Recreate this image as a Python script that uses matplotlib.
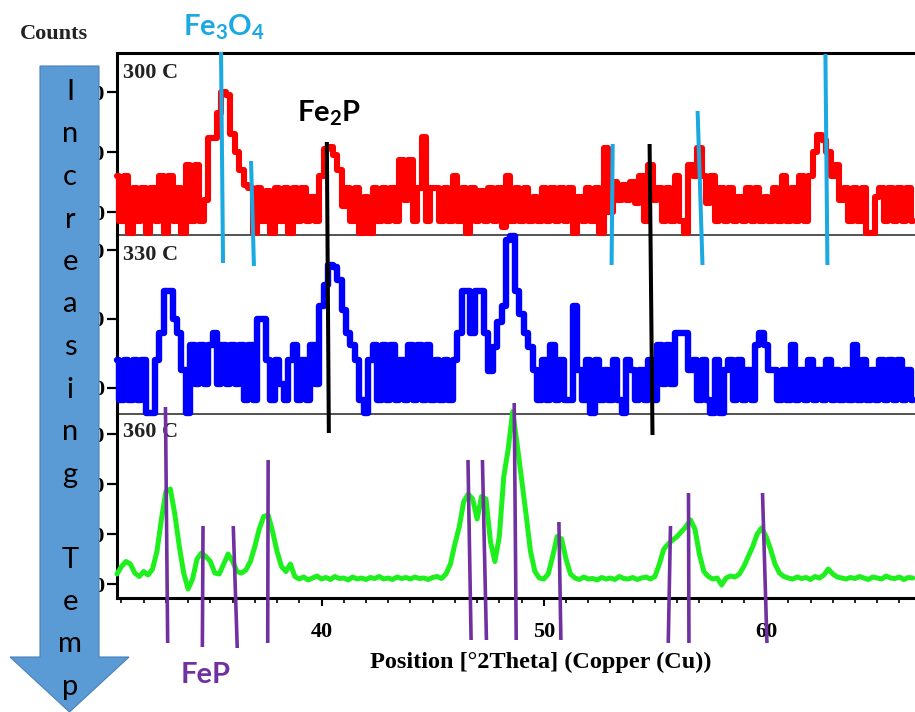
import numpy as np
import matplotlib
matplotlib.use('Agg')
import matplotlib.pyplot as plt
from matplotlib.patches import FancyArrow
from matplotlib.ticker import MultipleLocator

plt.rcParams['font.family'] = 'Liberation Serif'
plt.rcParams['font.weight'] = 'bold'
plt.rcParams['axes.labelweight'] = 'bold'
plt.rcParams['mathtext.fontset'] = 'custom'
plt.rcParams['mathtext.rm'] = 'Lato:bold'
plt.rcParams['mathtext.it'] = 'Lato:bold'
plt.rcParams['mathtext.bf'] = 'Lato:bold'

# scan range (deg 2theta) and step
theta_start = 30.8
theta_step = 0.2

counts_300 = [61, -14, 61, -34, 41, -14, 41, -34, 41, -14,
              61, -34, 61, -14, 41, -34, 79, -14, 79, -14,
              20, 123, 123, 165, 200, 195, 130, 100, 70, 45,
              41, -34, 41, -14, 35, -34, 41, -14, 41, -34,
              41, -14, 41, -14, 25, -14, 60, 105, 108, 95,
              70, 10, 41, -14, 41, -34, 25, -34, 41, -14,
              41, -14, 41, -14, 87, 20, 87, -14, 41, 125,
              -14, 41, 41, -14, 41, -14, 61, -14, 41, -34,
              41, -14, 35, -14, 41, -14, 41, -24, 61, -14,
              41, -14, 41, -14, 25, -14, 41, -14, 41, -14,
              41, -14, 41, -34, 25, -14, 41, -14, 41, -34,
              107, 0, 50, 20, 45, 20, 50, 15, 61, -14,
              79, 20, 41, -14, 41, -14, 61, -14, -34, 79,
              61, 107, 61, 15, 61, -14, 41, -14, 41, -14,
              25, -14, 41, -14, 41, -14, 25, -14, 41, -14,
              61, -14, 41, -14, 61, -14, 61, 100, 128, 120,
              100, 61, 79, 20, 41, -14, 41, -14, 41, -34,
              -34, 25, 41, -14, 41, -14, 41, -14, 41, -14]

counts_330 = [41, -17, 41, -17, 41, -17, 41, -36, -36, 41,
              80, 140, 141, 100, 80, 26, -36, 62, 5, 62,
              5, 62, 80, 5, 62, 5, 62, 5, 62, -17,
              62, -17, 100, 100, 41, -17, 41, 5, -17, 41,
              62, -17, 41, -17, 62, 5, 119, 150, 179, 175,
              157, 113, 80, 62, 41, -17, -36, 41, 62, -17,
              62, -17, 62, -17, 41, -17, 62, -17, 62, -17,
              62, -17, 41, -17, 41, -17, 40, 80, 141, 141,
              80, 141, 141, 80, 25, 60, 95, 119, 215, 220,
              141, 107, 80, 60, 26, -17, 41, -17, 62, -17,
              41, -17, -17, 119, 26, -17, 41, -36, 41, -17,
              26, -17, 41, -17, -36, 41, 26, -17, 26, -17,
              41, -17, 62, 5, 62, 5, 80, 80, 80, 26,
              41, -17, 41, -17, -36, 41, -36, 26, 41, -17,
              41, -17, 26, -17, 62, 80, 62, 26, 26, -17,
              26, -17, 62, -17, 26, -17, 41, -17, 26, -17,
              41, -17, 26, -17, 26, -17, 62, -17, 41, -17,
              26, -17, 41, -17, 41, -17, 41, -17, 26, -17]

counts_360 = [20, 35, 45, 40, 22, 15, 25, 18, 30, 66,
              130, 185, 190, 140, 76, 22, -10, 10, 50, 62,
              55, 45, 22, 20, 40, 60, 45, 25, 22, 28,
              45, 75, 110, 135, 138, 105, 65, 35, 25, 40,
              15, 10, 14, 8, 12, 16, 10, 13, 9, 15,
              11, 12, 8, 14, 10, 12, 9, 13, 11, 15,
              10, 12, 9, 14, 11, 13, 10, 14, 11, 12,
              9, 13, 15, 11, 20, 40, 80, 115, 165, 180,
              170, 130, 175, 170, 85, 45, 95, 215, 270, 345,
              280, 210, 140, 66, 25, 12, 10, 20, 55, 95,
              90, 50, 20, 12, 9, 14, 10, 11, 8, 13,
              10, 12, 9, 15, 11, 10, 13, 9, 12, 14,
              10, 15, 40, 70, 80, 88, 95, 105, 115, 128,
              110, 60, 25, 15, 10, 12, -2, 12, 16, 14,
              20, 35, 55, 75, 100, 112, 95, 70, 40, 22,
              15, 12, 10, 14, 11, 13, 9, 15, 12, 18,
              30, 20, 14, 12, 10, 13, 11, 15, 12, 9,
              14, 12, 10, 16, 12, 11, 14, 9, 13, 12]

temps = ['300 C', '330 C', '360 C']
colors = ['#ff0000', '#0000ff', '#1ef01e']
widths = [4.4, 4.6, 3.6]
styles = ['steps-mid', 'steps-mid', 'default']
ylims = [(-38, 265), (-38, 222), (-28, 340)]
yticks = [[0, 100, 200], [0, 100, 200], [0, 100, 200, 300]]
label_y = [0.945, 0.944, 0.957]

# reference sticks: 2theta at top end, 2theta at bottom end, top/bottom (px from top)
fe3o4_top = [35.48, 36.83, 53.10, 56.92, 62.67]
fe3o4_bot = [35.57, 36.96, 53.05, 57.14, 62.76]
fe3o4_y0 = [52, 161, 144, 111, 54]
fe3o4_y1 = [263, 266, 265, 265, 265]

fe2p_top = [40.24, 54.76]
fe2p_bot = [40.33, 54.89]
fe2p_y0 = [142, 144]
fe2p_y1 = [433, 435]

fep_top = [32.98, 34.67, 36.03, 37.60, 46.59, 47.24, 48.67, 50.68, 55.70, 56.51, 59.84]
fep_bot = [33.08, 34.64, 36.21, 37.58, 46.73, 47.42, 48.76, 50.77, 55.60, 56.53, 60.04]
fep_y0 = [407, 526, 526, 460, 460, 460, 403, 522, 526, 493, 493]
fep_y1 = [643, 647, 648, 643, 640, 640, 640, 640, 643, 643, 643]

arrow_word = 'Increasing Temp'

cyan = '#1ba9e2'
purple = '#7030a0'

two_theta = theta_start + theta_step * np.arange(len(counts_300))
xlim = (30.8, 66.7)

W, H = 915.0, 712.0
fig = plt.figure(figsize=(W / 100, H / 100), dpi=100)
left = 117 / W
panel_px = [(53, 235), (235, 414), (414, 598)]

axes = []
for k, (top, bot) in enumerate(panel_px):
    ax = fig.add_axes([left, 1 - bot / H, 1 - left, (bot - top) / H])
    data = [counts_300, counts_330, counts_360][k]
    ax.plot(two_theta, data, color=colors[k], lw=widths[k], drawstyle=styles[k],
            solid_joinstyle='round', solid_capstyle='round', clip_on=False, zorder=3)
    ax.set_xlim(xlim)
    ax.set_ylim(ylims[k])
    ax.set_yticks(yticks[k])
    ax.tick_params(axis='y', direction='out', length=7, width=1.6, labelsize=16, pad=2)
    ax.spines['right'].set_visible(False)
    ax.spines['left'].set_linewidth(2.2)
    if k == 0:
        ax.spines['top'].set_linewidth(2.2)
    else:
        ax.spines['top'].set_visible(False)
    if k < 2:
        ax.spines['bottom'].set_linewidth(1.3)
        ax.spines['bottom'].set_color('#444444')
        ax.tick_params(axis='x', bottom=False, labelbottom=False)
    else:
        ax.spines['bottom'].set_linewidth(2.2)
    ax.text(0.0075, label_y[k], temps[k], transform=ax.transAxes, ha='left', va='top',
            fontsize=16, color='#222222')
    ax.patch.set_alpha(0)
    axes.append(ax)

axb = axes[2]
axb.set_xticks([40, 50, 60])
axb.xaxis.set_minor_locator(MultipleLocator(1))
axb.tick_params(axis='x', which='major', direction='out', length=6, width=1.5,
                labelsize=16, pad=11)
axb.tick_params(axis='x', which='minor', direction='out', length=3.5, width=1.2)
axb.set_xlabel('Position [\u00b02Theta] (Copper (Cu))', fontsize=17.5)
axb.xaxis.label.set_verticalalignment('center')
axb.xaxis.set_label_coords(0.531, -0.348)

# phase reference sticks, drawn across the stacked panels
ov = fig.add_axes([left, 0, 1 - left, 1])
ov.set_xlim(xlim)
ov.set_ylim(H, 0)
ov.axis('off')
for xt, xb, y0, y1 in zip(fe3o4_top, fe3o4_bot, fe3o4_y0, fe3o4_y1):
    ov.plot([xt, xb], [y0, y1], color=cyan, lw=2.9, solid_capstyle='butt')
for xt, xb, y0, y1 in zip(fe2p_top, fe2p_bot, fe2p_y0, fe2p_y1):
    ov.plot([xt, xb], [y0, y1], color='black', lw=2.9, solid_capstyle='butt')
for xt, xb, y0, y1 in zip(fep_top, fep_bot, fep_y0, fep_y1):
    ov.plot([xt, xb], [y0, y1], color=purple, lw=2.6, solid_capstyle='butt')

ov.text(35.62, 36, r'Fe$_\mathbf{3}$O$_\mathbf{4}$', ha='center', va='baseline',
        color=cyan, fontsize=21, family='Lato', weight='bold')
ov.text(40.34, 122, r'Fe$_\mathbf{2}$P', ha='center', va='baseline',
        color='black', fontsize=21, family='Lato', weight='bold')
ov.text(34.80, 683, 'FeP', ha='center', va='baseline',
        color=purple, fontsize=21, family='Lato', weight='bold')

# arrow with stacked lettering on the left
deco = fig.add_axes([0, 0, 1, 1])
deco.set_xlim(0, W)
deco.set_ylim(H, 0)
deco.axis('off')
deco.add_patch(FancyArrow(69.5, 66, 0, 646, width=59, head_width=119, head_length=55,
                          length_includes_head=True, fc='#5b9bd5', ec='#4a80b8', lw=0.8))
for k, ch in enumerate(arrow_word):
    if ch == ' ':
        continue
    deco.text(70, 100 + 42.5 * k, ch, ha='center', va='baseline', family='Lato',
              weight='normal', fontsize=21, color='black')
deco.text(20, 34, 'Counts', ha='left', va='center', fontsize=16, color='#222222')

fig.savefig('out.png', dpi=100)
